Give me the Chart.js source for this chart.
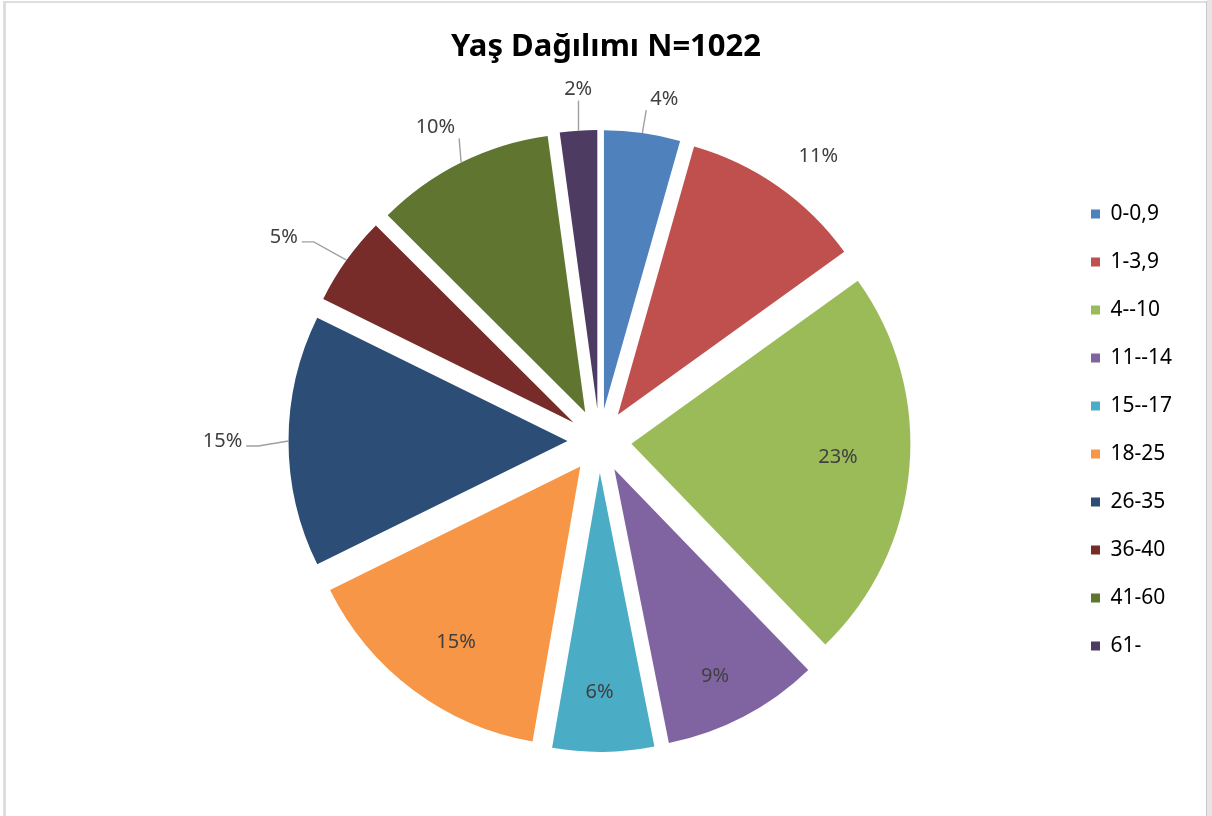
<!DOCTYPE html>
<html lang="tr">
<head>
<meta charset="utf-8">
<title>Yaş Dağılımı</title>
<script src="https://cdn.jsdelivr.net/npm/chart.js@4.4.1/dist/chart.umd.min.js"></script>
<style>
  html, body { margin: 0; padding: 0; background: #fff; }
  #wrap { position: relative; width: 1212px; height: 816px; }
  canvas { display: block; }
</style>
</head>
<body>
<div id="wrap"><canvas id="ageChart" width="1212" height="816"></canvas></div>
<script>
// ---- Data (counts, N=1022) ----
const categories = ["0-0,9", "1-3,9", "4--10", "11--14", "15--17", "18-25", "26-35", "36-40", "41-60", "61-"];
const counts = [45, 109, 232, 93, 60, 153, 149, 53, 106, 22];
const sliceColors = ["#4F81BD", "#C0504D", "#9BBB59", "#8064A2", "#4BACC6", "#F79646", "#2C4D75", "#772C2A", "#5F7530", "#4D3B62"];

// ---- Label placement (style only) ----
const labelDist = [348, 359, 239, 262, 251, 247, 377, 376, 354, 352];
const labelTurn = [2.8, 2.5, -1.3, 1.5, 0.7, -1.3, 0, -2.7, -1.2, 0.4];
const hasLeader = [true, false, false, false, false, false, true, true, true, true];

const EXPLODE = 32;
const RADIUS = 279;

Chart.defaults.font.family = "'Noto Sans', sans-serif";

// ---- Excel-like frame ----
const framePlugin = {
  id: "frame",
  beforeDraw(chart) {
    const c = chart.ctx;
    c.save();
    c.fillStyle = "#fff";
    c.fillRect(0, 0, chart.width, chart.height);
    c.fillStyle = "#dedede";
    c.fillRect(3, 1, 1203, 2);
    c.fillRect(3, 1, 3, chart.height);
    c.fillStyle = "#c8c8c8";
    c.fillRect(1206, 1, 1, chart.height);
    c.fillStyle = "#e6e6e6";
    c.fillRect(1207, 0, 5, chart.height);
    c.restore();
  },
  // legend keeps a thin layout slot (so the pie sits where Excel put it),
  // then gets widened to the right edge so its text is not clipped
  afterLayout(chart) {
    const lg = chart.legend;
    if (!lg) return;
    lg.right = chart.width;
    lg.width = lg.right - lg.left;
  }
};

// ---- Exploded slices: move every arc out along its mid angle ----
const explodePlugin = {
  id: "explode",
  beforeDatasetDraw(chart, args) {
    const c = chart.ctx;
    args.meta.data.forEach((arc) => {
      const mid = (arc.startAngle + arc.endAngle) / 2;
      c.save();
      c.translate(Math.cos(mid) * EXPLODE, Math.sin(mid) * EXPLODE);
      arc.draw(c);
      c.restore();
    });
    return false;
  }
};

// ---- Percent labels + leader lines ----
const pctLabelPlugin = {
  id: "pctLabels",
  afterDatasetsDraw(chart) {
    const c = chart.ctx;
    const arcs = chart.getDatasetMeta(0).data;
    const total = counts.reduce((a, b) => a + b, 0);
    c.save();
    c.font = "20px 'Noto Sans'";
    c.textAlign = "center";
    c.textBaseline = "middle";
    arcs.forEach((arc, i) => {
      const mid = (arc.startAngle + arc.endAngle) / 2;
      const a = mid + (labelTurn[i] * Math.PI) / 180;
      const lx = arc.x + Math.cos(a) * labelDist[i];
      const ly = arc.y + Math.sin(a) * labelDist[i];
      const text = Math.round((counts[i] / total) * 100) + "%";
      if (hasLeader[i]) {
        const r = arc.outerRadius + EXPLODE;
        const ex = arc.x + Math.cos(mid) * r;
        const ey = arc.y + Math.sin(mid) * r;
        const w = c.measureText(text).width / 2 + 4;
        const h = 11;
        c.strokeStyle = "#a0a0a0";
        c.lineWidth = 1.4;
        c.beginPath();
        if (Math.abs(ex - lx) > Math.abs(ey - ly)) {
          const side = ex > lx ? 1 : -1;
          const sx = lx + side * w;
          c.moveTo(sx, ly + 5);
          c.lineTo(sx + side * 12, ly + 5);
        } else {
          c.moveTo(Math.min(Math.max(ex, lx - w), lx + w), ey > ly ? ly + h : ly - h);
        }
        c.lineTo(ex, ey);
        c.stroke();
      }
      c.fillStyle = "#404040";
      c.fillText(text, lx, ly);
    });
    c.restore();
  }
};

new Chart(document.getElementById("ageChart"), {
  type: "pie",
  data: {
    labels: categories,
    datasets: [
      {
        data: counts,
        backgroundColor: sliceColors,
        borderWidth: 0,
        radius: RADIUS
      }
    ]
  },
  options: {
    responsive: false,
    animation: false,
    layout: { padding: { left: 135, right: 135, top: 0, bottom: 110.5 } },
    plugins: {
      title: {
        display: true,
        text: "Yaş Dağılımı N=1022",
        color: "#000",
        font: { size: 31, weight: "bold" },
        padding: { top: 29, bottom: 110.3 }
      },
      legend: {
        position: "right",
        align: "start",
        fullSize: false,
        maxWidth: 13,
        labels: {
          boxWidth: 9,
          boxHeight: 9,
          padding: 27,
          color: "#000",
          font: { size: 21 }
        }
      },
      tooltip: { enabled: false }
    }
  },
  plugins: [framePlugin, explodePlugin, pctLabelPlugin]
});
</script>
</body>
</html>
